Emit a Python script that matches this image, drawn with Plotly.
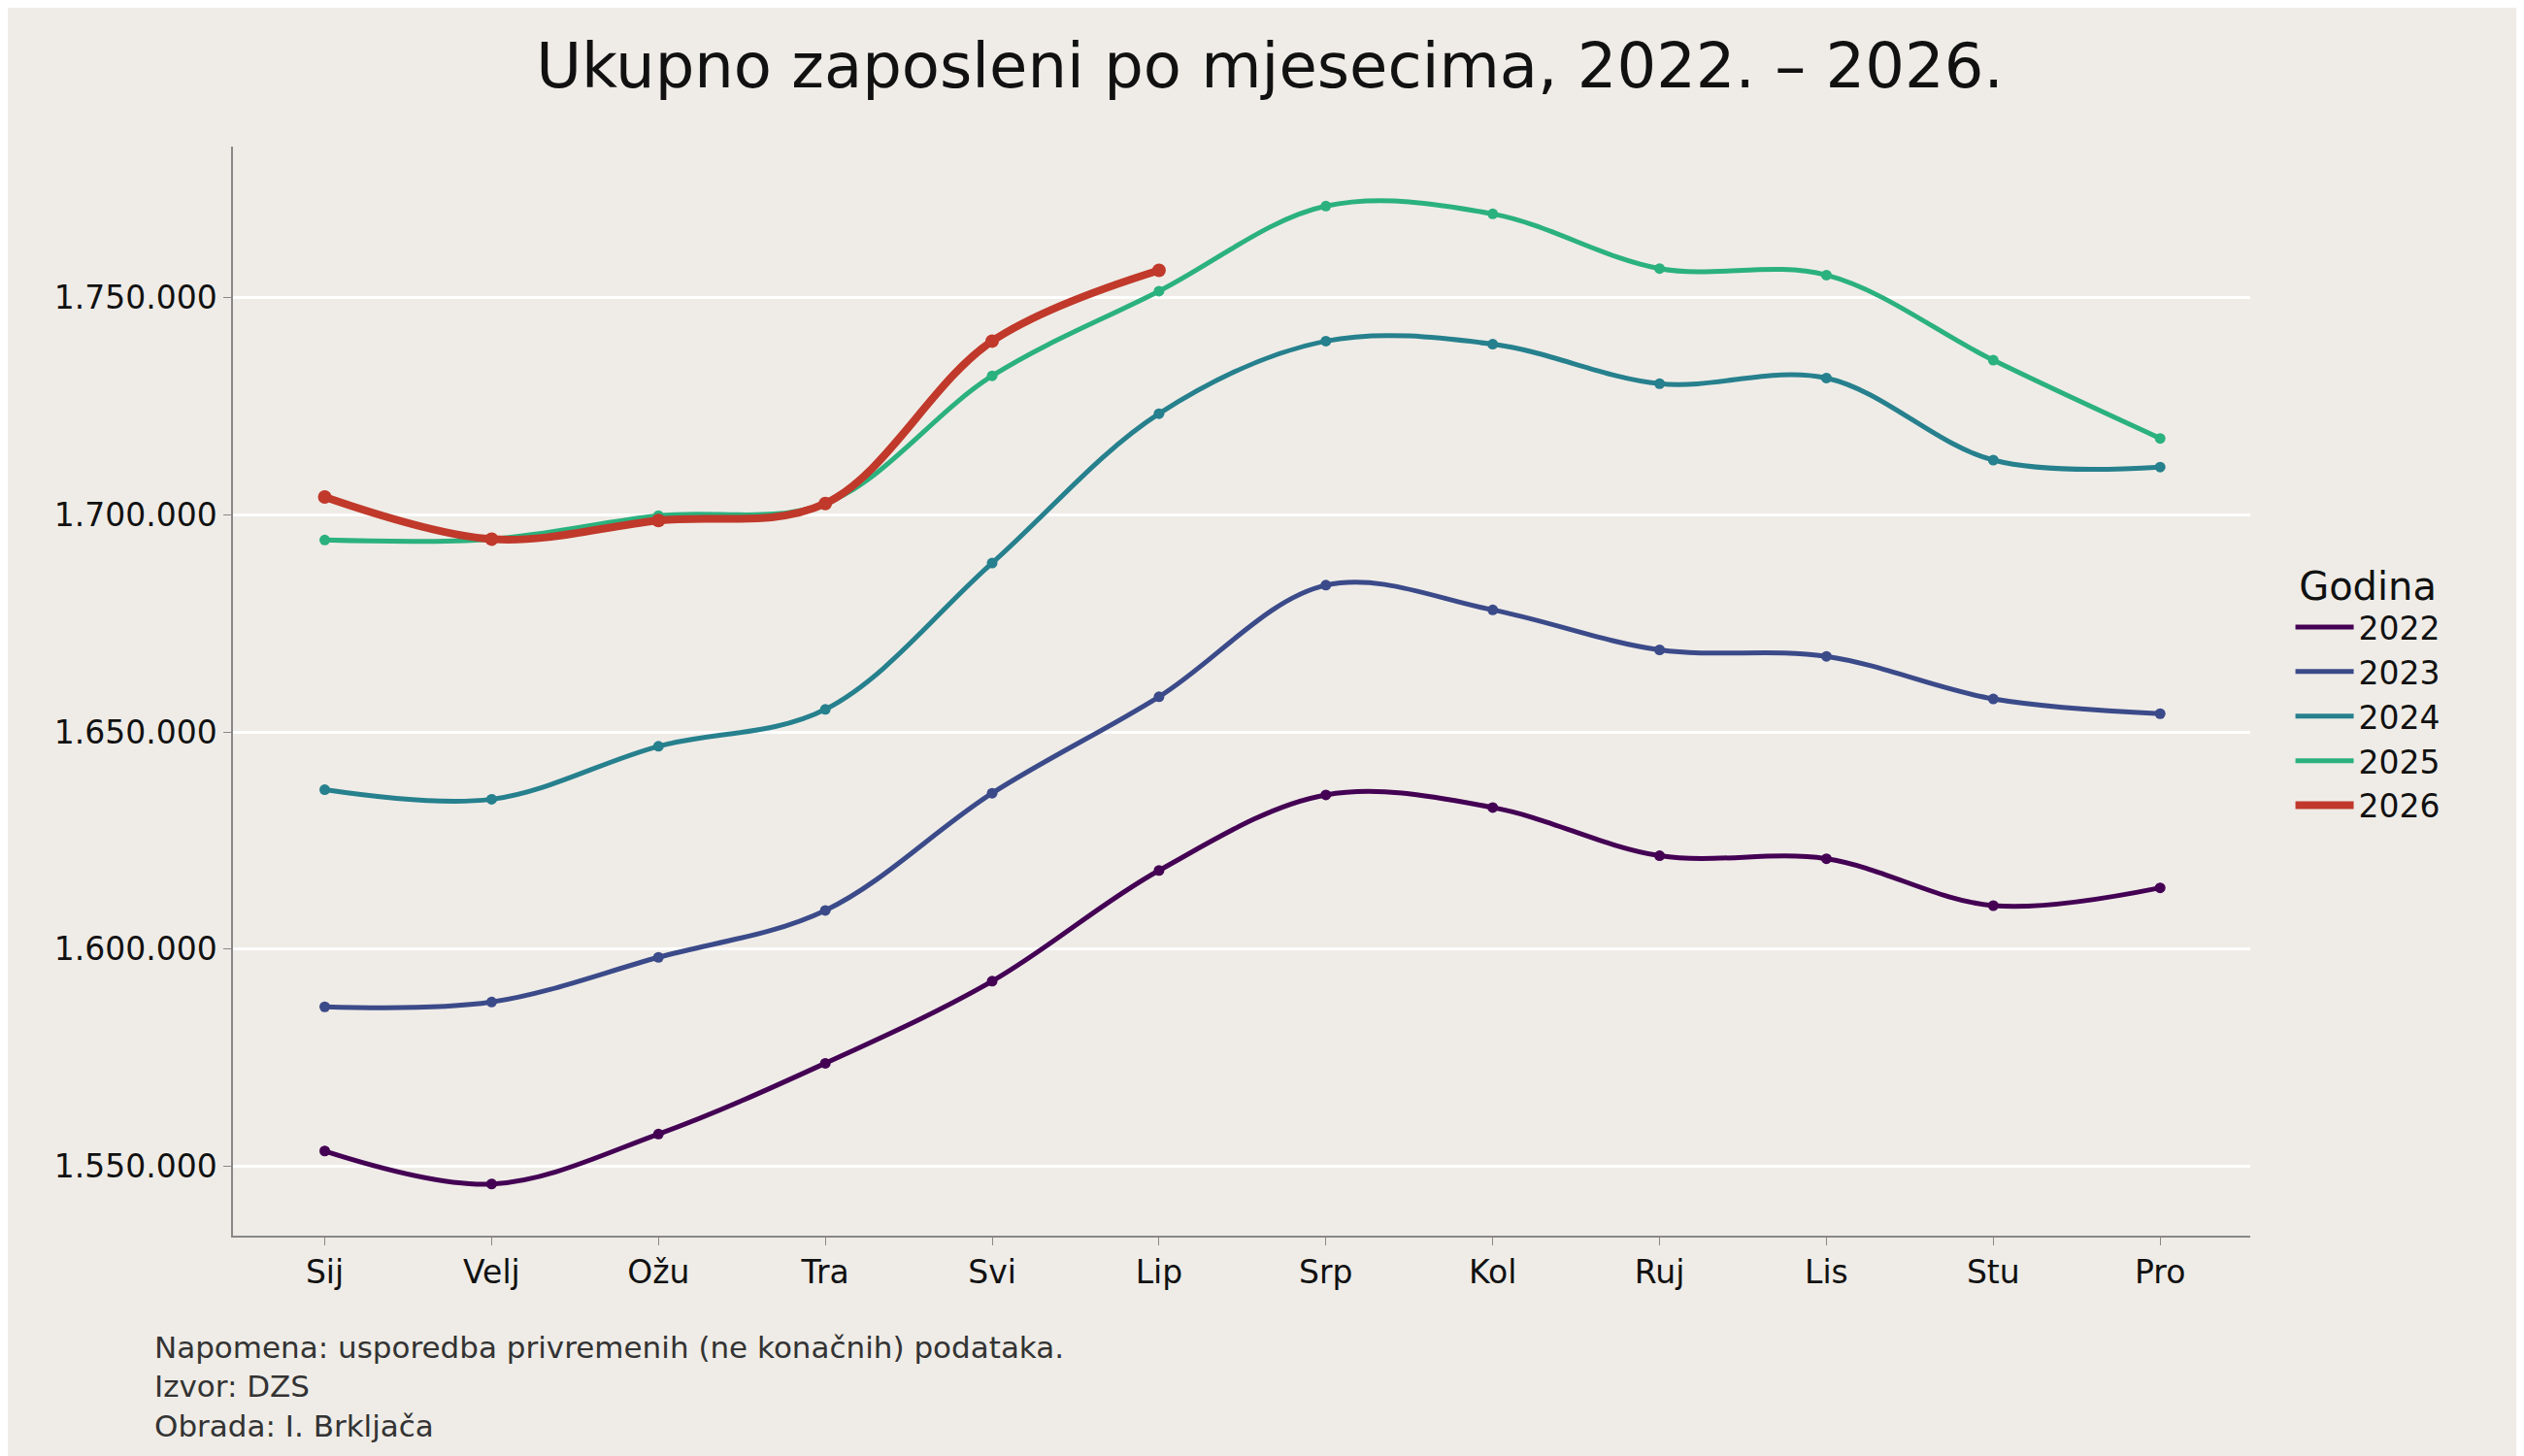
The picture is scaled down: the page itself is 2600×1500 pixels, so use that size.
import plotly.graph_objects as go

months = ["Sij", "Velj", "Ožu", "Tra", "Svi", "Lip", "Srp", "Kol", "Ruj", "Lis", "Stu", "Pro"]

y2022 = [1553500, 1545900, 1557400, 1573700, 1592600, 1618100, 1635500, 1632600, 1621500, 1620800, 1610000, 1614100]
y2023 = [1586700, 1587800, 1598100, 1608900, 1635900, 1658100, 1683800, 1678100, 1668900, 1667400, 1657600, 1654200]
y2024 = [1636700, 1634500, 1646700, 1655200, 1688900, 1723300, 1740000, 1739300, 1730200, 1731500, 1712600, 1711000]
y2025 = [1694200, 1694400, 1699800, 1702600, 1732000, 1751500, 1771100, 1769300, 1756700, 1755200, 1735600, 1717600]
y2026 = [1704100, 1694400, 1698700, 1702600, 1740000, 1756300]

series = [
    ("2022", y2022, "#440154", 5),
    ("2023", y2023, "#3b4a89", 5),
    ("2024", y2024, "#26808d", 5),
    ("2025", y2025, "#2bb17e", 5),
    ("2026", y2026, "#c0392b", 8),
]

fig = go.Figure()
for name, ys, col, w in series:
    fig.add_trace(go.Scatter(
        x=months[:len(ys)], y=ys, name=name, mode="lines+markers", showlegend=False,
        line=dict(color=col, width=w, shape="spline", smoothing=1.0),
        marker=dict(color=col, size=11 if w < 6 else 14),
    ))
    # legend entry with line only
    fig.add_trace(go.Scatter(
        x=[None], y=[None], name=name, mode="lines",
        line=dict(color=col, width=w),
    ))

bg = "#efece7"
fig.update_layout(
    width=2600, height=1500,
    paper_bgcolor=bg, plot_bgcolor=bg,
    font=dict(family="DejaVu Sans", size=33, color="#111"),
    separators=",.",
    title=dict(text="Ukupno zaposleni po mjesecima, 2022. – 2026.", x=0.5, xanchor="center",
               y=0.975, yanchor="top", font=dict(size=64)),
    margin=dict(l=232, r=290, t=143, b=235),
    legend=dict(title=dict(text="Godina", side="top center"), x=1.02, xanchor="left", y=0.5, yanchor="middle",
                bgcolor="rgba(0,0,0,0)", font=dict(size=33), itemwidth=60),
)
fig.update_xaxes(type="category", categoryorder="array", categoryarray=months, range=[-0.55, 11.54],
                 showgrid=False, showline=True, linecolor="#888", linewidth=1.5,
                 ticks="outside", tickcolor="#888", ticklen=8, zeroline=False)
fig.update_yaxes(range=[1534000, 1784800], tickvals=[1550000, 1600000, 1650000, 1700000, 1750000],
                 tickformat=",d", showgrid=True, gridcolor="white", gridwidth=3,
                 showline=True, linecolor="#888", linewidth=1.5, ticks="outside", tickcolor="#888",
                 ticklen=8, zeroline=False)
fig.add_annotation(
    text="Napomena: usporedba privremenih (ne konačnih) podataka.<br>Izvor: DZS<br>Obrada: I. Brkljača",
    xref="paper", yref="paper", x=-0.04, y=-0.085, xanchor="left", yanchor="top",
    align="left", showarrow=False, font=dict(size=31, color="#333"),
)
fig.write_html("out.html")
